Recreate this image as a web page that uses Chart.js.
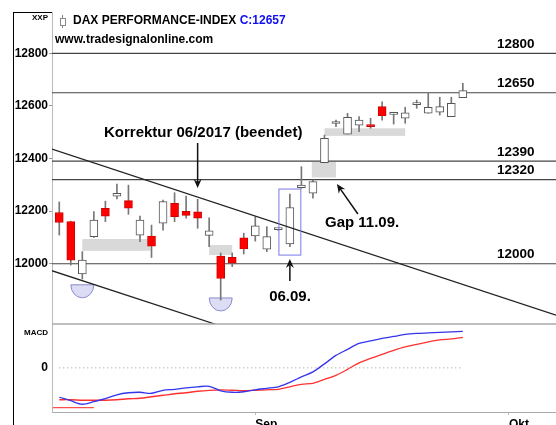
<!DOCTYPE html>
<html>
<head>
<meta charset="utf-8">
<script src="https://cdn.jsdelivr.net/npm/chart.js@4.4.1/dist/chart.umd.min.js"></script>
<style>
  html, body { margin: 0; padding: 0; background: #fff; }
  #wrap { position: relative; width: 556px; height: 425px; overflow: hidden; }
  #main { position: absolute; left: 0; top: 0; }
  #macd { position: absolute; left: 0; top: 323px; }
</style>
</head>
<body>
<div id="wrap">
  <canvas id="main" width="556" height="324"></canvas>
  <canvas id="macd" width="556" height="102"></canvas>
</div>
<script>
// trading days, Aug 9 - Sep 27 2017
const dates = ['09.08.', '10.08.', '11.08.', '14.08.', '15.08.', '16.08.', '17.08.', '18.08.', '21.08.', '22.08.',
  '23.08.', '24.08.', '25.08.', '28.08.', '29.08.', '30.08.', '31.08.', '01.09.', '04.09.', '05.09.',
  '06.09.', '07.09.', '08.09.', '11.09.', '12.09.', '13.09.', '14.09.', '15.09.', '18.09.', '19.09.',
  '20.09.', '21.09.', '22.09.', '25.09.', '26.09.', '27.09.'];
const opens = [12195, 12160, 11961, 12103, 12211, 12257, 12240, 12109, 12105, 12154,
  12230, 12199, 12197, 12108, 12029, 12024, 12099, 12106, 12055, 12130,
  12075, 12289, 12268, 12384, 12533, 12493, 12527, 12527, 12597, 12568,
  12553, 12605, 12572, 12576, 12559, 12631];
const highs = [12235, 12162, 12046, 12198, 12238, 12303, 12299, 12181, 12147, 12242,
  12270, 12257, 12245, 12175, 12041, 12041, 12116, 12179, 12141, 12135,
  12265, 12369, 12318, 12489, 12546, 12572, 12559, 12553, 12616, 12576,
  12595, 12622, 12650, 12633, 12633, 12686];
const lows = [12109, 11995, 11942, 12100, 12160, 12246, 12188, 12084, 12024, 12128,
  12160, 12173, 12135, 12065, 11862, 11989, 12037, 12086, 12046, 12127,
  12065, 12287, 12249, 12384, 12521, 12493, 12502, 12515, 12546, 12531,
  12534, 12591, 12572, 12565, 12559, 12631];
const closes = [12157, 12014, 12014, 12166, 12181, 12268, 12211, 12166, 12067, 12236,
  12179, 12184, 12173, 12125, 11944, 12002, 12056, 12144, 12103, 12132,
  12214, 12299, 12312, 12477, 12535, 12557, 12546, 12521, 12563, 12570,
  12574, 12607, 12595, 12597, 12610, 12658];

// MACD panel
const macdLine = [-59, -66, -73, -68, -62, -54, -50, -49, -51, -45, -43, -40, -38, -37, -46, -49, -48, -44,
  -41, -38, -29, -18, -8, 8, 25, 37, 49, 54, 59, 63, 67, 69, 70, 71, 72, 73];
const signalLine = [-64, -64, -65, -65, -65, -64, -62, -61, -58, -55, -52, -50, -47, -45, -44, -45, -46, -45,
  -44, -43, -38, -33, -31, -23, -15, -3, 10, 19, 27, 35, 42, 47, 52, 56, 58, 61];
const oldSignal = [-80, -80];
const oldSignalX = [-0.55, 3.0];

// axes
const yTicks = [12000, 12200, 12400, 12600, 12800];
const xTickPos = [17, 39];
const xTickLabels = ['Sep', 'Okt'];
const xMin = -0.63, xMax = 43.08;

// drawn levels and annotations
const levels = [12800, 12650, 12390, 12320, 12000];
const trendX = [[-0.63, 43.08], [-0.81, 14.8]];
const trendY = [[12436, 11805], [11976, 11752]];
const zoneFrom = [2, 13, 21.9, 23];
const zoneTo = [7.9, 15, 24, 30];
const zoneLow = [12049, 12033, 12328, 12486];
const zoneHigh = [12094, 12071, 12388, 12515];
const arcIdx = [2, 14];
const arcTop = [11920, 11870];
const boxX = [19.05, 20.95];
const boxY = [12033, 12284];
const arrowFrom = [[12, 12459], [25.9, 12189], [20, 11934]];
const arrowTo = [[12, 12288], [24.08, 12303], [20, 12018]];

Chart.defaults.font.family = 'Arial, "Liberation Sans", sans-serif';
Chart.defaults.color = '#000';

const bodyFill = opens.map((o, i) => closes[i] < o ? '#ff0000' : '#ffffff');
const bodyLine = opens.map((o, i) => closes[i] < o ? '#d00000' : '#555555');

function text(ctx, s, x, y, font, color, align) {
  ctx.save();
  ctx.font = font;
  ctx.fillStyle = color || '#000';
  ctx.textAlign = align || 'left';
  ctx.textBaseline = 'middle';
  ctx.fillText(s, x, y);
  ctx.restore();
}

function arrow(ctx, x1, y1, x2, y2) {
  const a = Math.atan2(y2 - y1, x2 - x1);
  ctx.save();
  ctx.strokeStyle = '#111';
  ctx.fillStyle = '#111';
  ctx.lineWidth = 1.5;
  ctx.beginPath();
  ctx.moveTo(x1, y1);
  ctx.lineTo(x2 - 4 * Math.cos(a), y2 - 4 * Math.sin(a));
  ctx.stroke();
  ctx.beginPath();
  ctx.moveTo(x2, y2);
  ctx.lineTo(x2 - 9 * Math.cos(a) + 4 * Math.sin(a), y2 - 9 * Math.sin(a) - 4 * Math.cos(a));
  ctx.lineTo(x2 - 6 * Math.cos(a), y2 - 6 * Math.sin(a));
  ctx.lineTo(x2 - 9 * Math.cos(a) - 4 * Math.sin(a), y2 - 9 * Math.sin(a) + 4 * Math.cos(a));
  ctx.closePath();
  ctx.fill();
  ctx.restore();
}

// no extra room for the outer tick labels, the panels sit edge to edge
function noPad(s) {
  s.paddingTop = 0;
  s.paddingBottom = 0;
  s.paddingLeft = 0;
  s.paddingRight = 0;
}

const mainDecor = {
  id: 'mainDecor',
  beforeDatasetsDraw(chart) {
    const { ctx, scales: { x, y } } = chart;
    ctx.save();
    ctx.fillStyle = '#d9d9d9';
    zoneFrom.forEach((f, i) => {
      const x1 = x.getPixelForValue(f), x2 = x.getPixelForValue(zoneTo[i]);
      const y1 = y.getPixelForValue(zoneHigh[i]), y2 = y.getPixelForValue(zoneLow[i]);
      ctx.fillRect(x1, y1, x2 - x1, y2 - y1);
    });
    // half circles under the lows
    arcIdx.forEach((a, i) => {
      const cx = x.getPixelForValue(a), cy = y.getPixelForValue(arcTop[i]);
      ctx.beginPath();
      ctx.ellipse(cx, cy, 11.5, 13, 0, 0, Math.PI);
      ctx.closePath();
      ctx.fillStyle = '#dcdcf4';
      ctx.fill();
      ctx.strokeStyle = '#8c8cd0';
      ctx.lineWidth = 1;
      ctx.stroke();
    });
    ctx.restore();
  },
  afterDatasetsDraw(chart) {
    const { ctx, chartArea, scales: { x, y } } = chart;
    ctx.save();
    // box around 06.09.
    ctx.strokeStyle = '#7878e8';
    ctx.lineWidth = 1;
    const bx1 = x.getPixelForValue(boxX[0]), bx2 = x.getPixelForValue(boxX[1]);
    const by1 = y.getPixelForValue(boxY[1]), by2 = y.getPixelForValue(boxY[0]);
    ctx.strokeRect(bx1, by1, bx2 - bx1, by2 - by1);
    // frame
    ctx.strokeStyle = '#000';
    ctx.beginPath();
    ctx.moveTo(13.5, 12);
    ctx.lineTo(13.5, chart.height);
    ctx.moveTo(13, 12.5);
    ctx.lineTo(chartArea.left, 12.5);
    ctx.stroke();
    // candle icon in the title
    ctx.strokeStyle = '#888';
    ctx.beginPath();
    ctx.moveTo(62.5, 15);
    ctx.lineTo(62.5, 28);
    ctx.stroke();
    ctx.fillStyle = '#fff';
    ctx.fillRect(60, 18, 5, 7);
    ctx.strokeRect(60.5, 18.5, 5, 7);
    ctx.restore();

    arrowFrom.forEach((f, i) => {
      arrow(ctx, x.getPixelForValue(f[0]), y.getPixelForValue(f[1]),
        x.getPixelForValue(arrowTo[i][0]), y.getPixelForValue(arrowTo[i][1]));
    });

    const bold12 = 'bold 12px Arial, "Liberation Sans", sans-serif';
    text(ctx, 'XXP', 48, 18, 'bold 8px Arial, "Liberation Sans", sans-serif', '#000', 'right');
    ctx.font = bold12;
    const t = 'DAX PERFORMANCE-INDEX ';
    text(ctx, t, 73, 21, bold12);
    text(ctx, 'C:12657', 73 + ctx.measureText(t).width, 21, bold12, '#1010f0');
    text(ctx, 'www.tradesignalonline.com', 55, 40, bold12);

    const big = 'bold 15px Arial, "Liberation Sans", sans-serif';
    text(ctx, 'Korrektur 06/2017 (beendet)', 104, 133, big);
    text(ctx, 'Gap 11.09.', 325, 223, big);
    text(ctx, '06.09.', 290, 297, big, '#000', 'center');

    levels.forEach(lv => {
      text(ctx, String(lv), 497, y.getPixelForValue(lv) - 9, 'bold 13.5px Arial, "Liberation Sans", sans-serif');
    });
  }
};

new Chart(document.getElementById('main'), {
  type: 'bar',
  data: {
    datasets: [
      ...levels.map(lv => ({
        type: 'line',
        data: [{ x: xMin, y: lv }, { x: xMax, y: lv }],
        borderColor: '#444', borderWidth: 1.2, pointRadius: 0, order: 3
      })),
      ...trendX.map((tx, i) => ({
        type: 'line',
        data: [{ x: tx[0], y: trendY[i][0] }, { x: tx[1], y: trendY[i][1] }],
        borderColor: '#222', borderWidth: 1.2, pointRadius: 0, order: 0
      })),
      {
        // wicks
        data: dates.map((d, i) => ({ x: i, y: [lows[i], highs[i]] })),
        backgroundColor: '#777', barThickness: 1, grouped: false, order: 2
      },
      {
        // bodies
        data: dates.map((d, i) => ({ x: i, y: [opens[i], closes[i]] })),
        backgroundColor: bodyFill, borderColor: bodyLine, borderWidth: 1,
        borderSkipped: false, barThickness: 8, minBarLength: 2, grouped: false, order: 1
      }
    ]
  },
  options: {
    responsive: false,
    animation: false,
    layout: { padding: { left: 13, top: 12, right: 0, bottom: 0 } },
    plugins: { legend: { display: false }, tooltip: { enabled: false } },
    scales: {
      x: { type: 'linear', min: xMin, max: xMax, offset: false, display: false },
      y: {
        min: 11771, max: 12957,
        afterFit: s => { s.width = 39; noPad(s); },
        afterBuildTicks: s => { s.ticks = yTicks.map(v => ({ value: v })); },
        grid: { drawOnChartArea: false, tickLength: 3, color: '#999' },
        border: { color: '#bbb' },
        ticks: {
          padding: 1, font: { size: 12, weight: 'bold' }, color: '#000',
          callback: v => String(v)
        }
      }
    }
  },
  plugins: [mainDecor]
});

const macdDecor = {
  id: 'macdDecor',
  afterDraw(chart) {
    const { ctx, chartArea } = chart;
    ctx.save();
    ctx.strokeStyle = '#aaa';
    ctx.lineWidth = 1.5;
    ctx.beginPath();
    ctx.moveTo(chartArea.left, chartArea.top);
    ctx.lineTo(chartArea.right, chartArea.top);
    ctx.stroke();
    ctx.strokeStyle = '#000';
    ctx.lineWidth = 1;
    ctx.beginPath();
    ctx.moveTo(13.5, 0);
    ctx.lineTo(13.5, chart.height);
    ctx.stroke();
    ctx.restore();
    text(ctx, 'MACD', 48, 10, 'bold 8px Arial, "Liberation Sans", sans-serif', '#000', 'right');
  }
};

new Chart(document.getElementById('macd'), {
  type: 'line',
  data: {
    datasets: [
      {
        data: macdLine.map((v, i) => ({ x: i, y: v })),
        borderColor: '#3535ee', borderWidth: 1.3, pointRadius: 0, tension: 0.3
      },
      {
        data: signalLine.map((v, i) => ({ x: i, y: v })),
        borderColor: '#ff3030', borderWidth: 1.3, pointRadius: 0, tension: 0.3
      },
      {
        data: oldSignal.map((v, i) => ({ x: oldSignalX[i], y: v })),
        borderColor: '#ff5050', borderWidth: 1.3, pointRadius: 0
      },
      {
        // zero line
        data: [{ x: 0, y: 0 }, { x: macdLine.length - 1, y: 0 }],
        borderColor: '#999', borderWidth: 1, borderDash: [1, 3], pointRadius: 0
      }
    ]
  },
  options: {
    responsive: false,
    animation: false,
    layout: { padding: { left: 13, top: 1, right: 0, bottom: 0 } },
    plugins: { legend: { display: false }, tooltip: { enabled: false } },
    scales: {
      x: {
        type: 'linear', min: xMin, max: xMax, offset: false,
        afterFit: s => { s.height = 13; noPad(s); },
        afterBuildTicks: s => { s.ticks = xTickPos.map(v => ({ value: v })); },
        grid: { drawOnChartArea: false, tickLength: 3, color: '#bbb' },
        border: { color: '#aaa' },
        ticks: {
          align: 'start', padding: 2, maxRotation: 0, autoSkip: false,
          font: { size: 12, weight: 'bold' }, color: '#000',
          callback: (v, i) => xTickLabels[i]
        }
      },
      y: {
        min: -88.6, max: 88,
        afterFit: s => { s.width = 39; noPad(s); },
        afterBuildTicks: s => { s.ticks = [{ value: 0 }]; },
        grid: { drawOnChartArea: false, drawTicks: false },
        border: { color: '#bbb' },
        ticks: { padding: 4, font: { size: 12, weight: 'bold' }, color: '#000' }
      }
    }
  },
  plugins: [macdDecor]
});
</script>
</body>
</html>
